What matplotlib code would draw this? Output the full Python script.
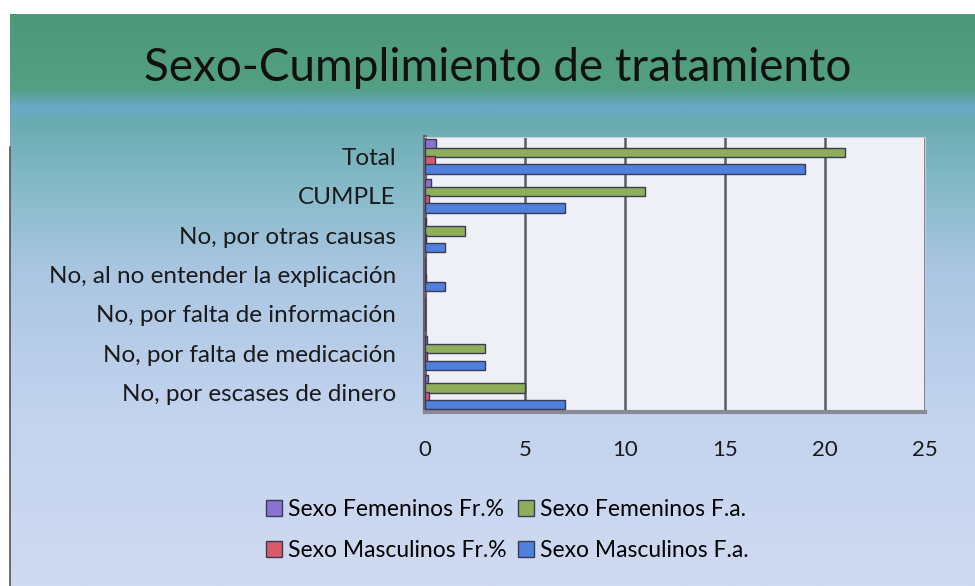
import matplotlib.pyplot as plt
import numpy as np
from matplotlib.colors import LinearSegmentedColormap

categorias = ['No, por escases de dinero', 'No, por falta de medicación',
              'No, por falta de información', 'No, al no entender la explicación',
              'No, por otras causas', 'CUMPLE', 'Total']
fem_fr = [0.125, 0.075, 0.0, 0.0, 0.05, 0.275, 0.525]
fem_fa = [5, 3, 0, 0, 2, 11, 21]
masc_fr = [0.175, 0.075, 0.0, 0.025, 0.025, 0.175, 0.475]
masc_fa = [7, 3, 0, 1, 1, 7, 19]
x_ticks = [0, 5, 10, 15, 20, 25]

plt.rcParams['font.family'] = ['Lato', 'DejaVu Sans']

fig = plt.figure(figsize=(9.75, 5.86), dpi=100)

# background gradient (green on top, light blue at the bottom)
bg = fig.add_axes([10 / 975, 0, 1 - 10 / 975, 1 - 14 / 586], zorder=-10)
cmap = LinearSegmentedColormap.from_list('fondo', [
    (0.0, '#4e987a'), (0.13, '#53a083'), (0.16, '#6aa8c6'), (0.19, '#6aacb2'),
    (0.30, '#85bac8'), (0.45, '#aac6e2'), (0.70, '#c3d3ee'), (1.0, '#d0daf2')])
grad = np.linspace(0, 1, 256).reshape(-1, 1)
bg.imshow(grad, aspect='auto', cmap=cmap, extent=[0, 1, 0, 1], origin='upper')
bg.set_axis_off()
fig.add_artist(plt.Line2D([10 / 975, 10 / 975], [0, 0.75], color='#555555',
                          lw=1.2, transform=fig.transFigure))

ax = fig.add_axes([425 / 975, (586 - 412) / 586, 500 / 975, 275 / 586])
ax.set_facecolor('#eef0f6')

y = np.arange(len(categorias))
h = 0.24
series = [
    (fem_fr, 'Sexo Femeninos Fr.%', '#8a72d0', 0.32),
    (fem_fa, 'Sexo Femeninos F.a.', '#8fae5a', 0.11),
    (masc_fr, 'Sexo Masculinos Fr.%', '#d85a66', -0.1),
    (masc_fa, 'Sexo Masculinos F.a.', '#4f80dc', -0.31),
]
bars = {}
for vals, name, color, off in series:
    bars[name] = ax.barh(y + off, vals, height=h, color=color, edgecolor='#3a3a55',
                         linewidth=1.0, label=name, zorder=3)

ax.set_xlim(0, 25)
ax.set_ylim(-0.5, len(categorias) - 0.5)
ax.set_xticks(x_ticks)
ax.set_yticks(y)
ax.set_yticklabels(categorias)
ax.tick_params(axis='x', length=0, pad=20, labelsize=16, colors='#1a1a1a')
ax.tick_params(axis='y', length=0, pad=21, labelsize=17.5, colors='#1a1a1a')
ax.grid(axis='x', color='#5a5a66', linewidth=1.8, zorder=1)
ax.spines['left'].set_color('#6b6070')
ax.spines['left'].set_linewidth(3)
ax.spines['bottom'].set_color('#8a8a95')
ax.spines['bottom'].set_linewidth(3)
ax.spines['top'].set_color('#c8ccd8')
ax.spines['right'].set_color('#c8ccd8')

fig.text(498 / 975, 1 - 68 / 586, 'Sexo-Cumplimiento de tratamiento', ha='center',
         va='center', fontsize=33, color='#111111')

order = ['Sexo Femeninos Fr.%', 'Sexo Masculinos Fr.%',
         'Sexo Femeninos F.a.', 'Sexo Masculinos F.a.']
fig.legend([bars[k] for k in order], order, loc='center',
           bbox_to_anchor=(507 / 975, 1 - 530 / 586), ncol=2, frameon=False,
           fontsize=16.5, handlelength=0.7, handleheight=0.7, handletextpad=0.25,
           columnspacing=0.5, labelspacing=0.9)

fig.savefig('out.png', dpi=100)
